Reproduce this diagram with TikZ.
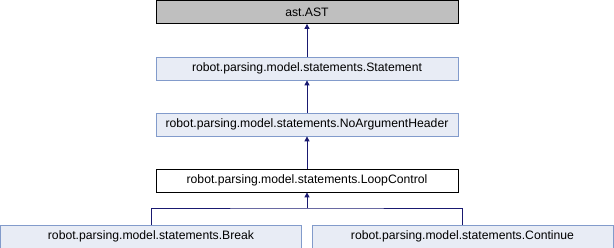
\documentclass[tikz,border=0pt]{standalone}
\usepackage{fontspec}
\setmainfont{Liberation Sans}
\usetikzlibrary{arrows.meta}
\definecolor{boxfill}{HTML}{E8ECF5}
\definecolor{boxline}{HTML}{829BCB}
\definecolor{grayfill}{HTML}{BFBFBF}
\definecolor{edge}{HTML}{191970}
\begin{document}
\begin{tikzpicture}[x=1pt,y=1pt,
  cls/.style={draw=boxline, fill=boxfill, line width=0.8pt, minimum height=23pt, inner sep=0pt, font=\fontsize{12.2}{14}\selectfont},
  top/.style={cls, draw=black, fill=grayfill},
  cur/.style={cls, draw=black, fill=white},
  edgeline/.style={draw=edge, line width=0.9pt},
  inh/.style={edgeline, -{Triangle[length=5pt,width=5pt]}}]
\useasboundingbox (0,0) rectangle (614,-248);
\node[top, minimum width=302pt] (ast) at (307,-12) {ast.AST};
\node[cls, minimum width=302pt] (stmt) at (307,-68.5) {robot.parsing.model.statements.Statement};
\node[cls, minimum width=302pt] (nah) at (307,-124.5) {robot.parsing.model.statements.NoArgumentHeader};
\node[cur, minimum width=302pt] (loop) at (307,-180.5) {robot.parsing.model.statements.LoopControl};
\node[cls, minimum width=301pt] (brk) at (151,-236.5) {robot.parsing.model.statements.Break};
\node[cls, minimum width=301pt] (cont) at (462.5,-236.5) {robot.parsing.model.statements.Continue};
\draw[inh] (stmt.north) -- (ast.south);
\draw[inh] (nah.north) -- (stmt.south);
\draw[inh] (loop.north) -- (nah.south);
\coordinate (j) at (307,-208);
\draw[edgeline] (brk.north) |- (j) -| (cont.north);
\draw[inh] (j) -- (loop.south);
\end{tikzpicture}
\end{document}
